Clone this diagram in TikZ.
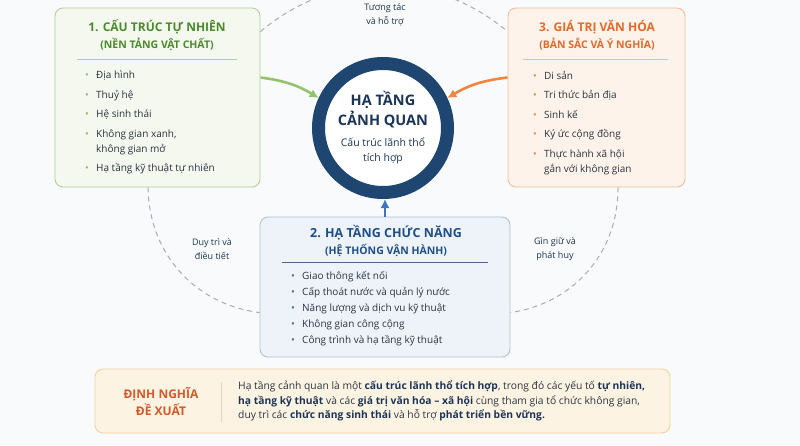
\documentclass[tikz,border=0pt]{standalone}
\usepackage{fontspec}
\setmainfont{Open Sans}
\usetikzlibrary{arrows.meta}

\definecolor{bgcol}{HTML}{F9FAFB}
\definecolor{navy}{HTML}{1E4671}
\definecolor{navytxt}{HTML}{1B3558}
\definecolor{bodytxt}{HTML}{2B3440}
\definecolor{greentitle}{HTML}{4A8A2C}
\definecolor{greenfill}{HTML}{F4F8EE}
\definecolor{greenedge}{HTML}{B5CF98}
\definecolor{greenarrow}{HTML}{95C36C}
\definecolor{greenbul}{HTML}{8CBF63}
\definecolor{orangetitle}{HTML}{E5692A}
\definecolor{orangefill}{HTML}{FDF3EA}
\definecolor{orangeedge}{HTML}{F2BE98}
\definecolor{orangearrow}{HTML}{F08640}
\definecolor{orangebul}{HTML}{F08A4A}
\definecolor{bluetitle}{HTML}{1F4F8A}
\definecolor{bluefill}{HTML}{EEF3FA}
\definecolor{blueedge}{HTML}{AFC0D8}
\definecolor{blueline}{HTML}{4A6890}
\definecolor{bluearrow}{HTML}{3D74BE}
\definecolor{bluebul}{HTML}{3E6EA8}
\definecolor{defnfill}{HTML}{FDF3E2}
\definecolor{defnedge}{HTML}{F3D29F}
\definecolor{defnline}{HTML}{E3D3BF}
\definecolor{defntitle}{HTML}{D6582A}
\definecolor{dashgrey}{HTML}{A3AEBB}

\newcommand{\bitem}[2]{\makebox[11pt][l]{\textcolor{#1}{\textbullet}}#2}
\newcommand{\hl}[1]{\textcolor{navytxt}{\bfseries #1}}

\begin{document}
\begin{tikzpicture}[
            x=1pt, y=-1pt,
            panel/.style={rectangle, draw, rounded corners=8pt, line width=0.9pt, inner sep=0pt},
            heading/.style={font=\fontsize{12}{14}\selectfont\bfseries},
            subheading/.style={font=\fontsize{10.5}{13}\selectfont\bfseries},
            itemlist/.style={anchor=north west, align=left, inner sep=0pt, text=bodytxt, font=\fontsize{10}{15}\selectfont},
            feed/.style={line width=2.6pt, -{Latex[length=9pt,width=9pt]}},
            relation/.style={dashgrey, line width=1pt, dash pattern=on 5pt off 4pt},
            relabel/.style={align=center, text=navytxt, font=\fontsize{9}{14}\selectfont}
        ]
            % Page
            \fill[bgcol] (0,0) rectangle (800,445);
            \useasboundingbox (0,0) rectangle (800,445);

            % 1. Natural structure
            \node[panel, draw=greenedge, fill=greenfill, minimum width=205pt, minimum height=179pt] (nature) at (157.5,97.5) {};
            \node[heading, text=greentitle] (natureT) at (157,27) {1. CẤU TRÚC TỰ NHIÊN};
            \node[subheading, text=greentitle] (natureS) at (157,44) {(NỀN TẢNG VẬT CHẤT)};
            \draw[greenedge, line width=0.9pt] (77,59) -- (237,59);
            \node[itemlist] (natureL) at (85,71) {
                \bitem{greenbul}{Địa hình}\\[4.5pt]
                \bitem{greenbul}{Thuỷ hệ}\\[4.5pt]
                \bitem{greenbul}{Hệ sinh thái}\\[4.5pt]
                \bitem{greenbul}{Không gian xanh,}\\
                \hspace*{11pt}không gian mở\\[4.5pt]
                \bitem{greenbul}{Hạ tầng kỹ thuật tự nhiên}
            };

            % 3. Cultural values
            \node[panel, draw=orangeedge, fill=orangefill, minimum width=177pt, minimum height=179pt] (culture) at (596.5,97.5) {};
            \node[heading, text=orangetitle] (cultureT) at (597,27) {3. GIÁ TRỊ VĂN HÓA};
            \node[subheading, text=orangetitle] (cultureS) at (597,44) {(BẢN SẮC VÀ Ý NGHĨA)};
            \draw[orangeedge, line width=0.9pt] (523,59) -- (668,59);
            \node[itemlist] (cultureL) at (533,71) {
                \bitem{orangebul}{Di sản}\\[4.5pt]
                \bitem{orangebul}{Tri thức bản địa}\\[4.5pt]
                \bitem{orangebul}{Sinh kế}\\[4.5pt]
                \bitem{orangebul}{Ký ức cộng đồng}\\[4.5pt]
                \bitem{orangebul}{Thực hành xã hội}\\
                \hspace*{11pt}gắn với không gian
            };

            % 2. Functional infrastructure
            \node[panel, draw=blueedge, fill=bluefill, minimum width=250pt, minimum height=140pt] (function) at (385,287) {};
            \node[heading, text=bluetitle, font=\fontsize{12.5}{14}\selectfont\bfseries] (functionT) at (386,233) {2. HẠ TẦNG CHỨC NĂNG};
            \node[subheading, text=bluetitle] (functionS) at (386,250) {(HỆ THỐNG VẬN HÀNH)};
            \draw[blueline, line width=0.8pt] (282,262) -- (488,262);
            \node[itemlist, font=\fontsize{10}{16}\selectfont] (functionL) at (291,271) {
                \bitem{bluebul}{Giao thông kết nối}\\
                \bitem{bluebul}{Cấp thoát nước và quản lý nước}\\
                \bitem{bluebul}{Năng lượng và dịch vu kỹ thuật}\\
                \bitem{bluebul}{Không gian công cộng}\\
                \bitem{bluebul}{Công trình và hạ tầng kỹ thuật}
            };

            % Core
            \node[circle, draw=navy, line width=13pt, fill=white, minimum size=129pt, inner sep=0pt] (core) at (383,128) {};
            \node[align=center, text=navytxt, font=\fontsize{14.5}{20}\selectfont\bfseries] (coreT) at (383,110) {HẠ TẦNG\\CẢNH QUAN};
            \node[align=center, text=navytxt, font=\fontsize{10.5}{15}\selectfont] (coreS) at (383,151) {Cấu trúc lãnh thổ\\tích hợp};

            % Dashed relations
            \draw[relation] ([yshift=-24pt]nature.north east) to[bend left=40] ([yshift=-24pt]culture.north west);
            \draw[relation] ([xshift=-9.5pt]nature.south) to[bend right=41] ([yshift=-96pt]function.north west);
            \draw[relation] ([xshift=21.5pt]culture.south) to[bend left=41] ([yshift=-96pt]function.north east);
            \node[relabel] (tieTop) at (385,15) {Tương tác\\và hỗ trợ};
            \node[relabel] (tieLeft) at (212,249) {Duy trì và\\điều tiết};
            \node[relabel] (tieRight) at (555,249) {Gìn giữ và\\phát huy};

            % Arrows into the core
            \draw[feed, greenarrow] ([yshift=20pt]nature.east) to[bend left=12] (core.155);
            \draw[feed, orangearrow] ([yshift=20pt]culture.west) to[bend right=12] (core.25);
            \draw[feed, bluearrow] (function.north) -- (function.north |- core.south);

            % Definition
            \node[panel, draw=defnedge, fill=defnfill, minimum width=575pt, minimum height=64pt] (defn) at (382.5,401) {};
            \node[align=center, text=defntitle, font=\fontsize{12}{17}\selectfont\bfseries] (defnT) at (161,401.5) {ĐỊNH NGHĨA\\ĐỀ XUẤT};
            \draw[defnline, line width=0.9pt] (221,382) -- (221,422);
            \node[anchor=west, align=left, inner sep=0pt, text=bodytxt, font=\fontsize{10.3}{14.5}\selectfont] (defnB) at (238,401) {
                Hạ tầng cảnh quan là một \hl{cấu trúc lãnh thổ tích hợp}, trong đó các yếu tố \hl{tự nhiên,}\\
                \hl{hạ tầng kỹ thuật} và các \hl{giá trị văn hóa – xã hội} cùng tham gia tổ chức không gian,\\
                duy trì các \hl{chức năng sinh thái} và hỗ trợ \hl{phát triển bền vững.}
            };
        \end{tikzpicture}
\end{document}
